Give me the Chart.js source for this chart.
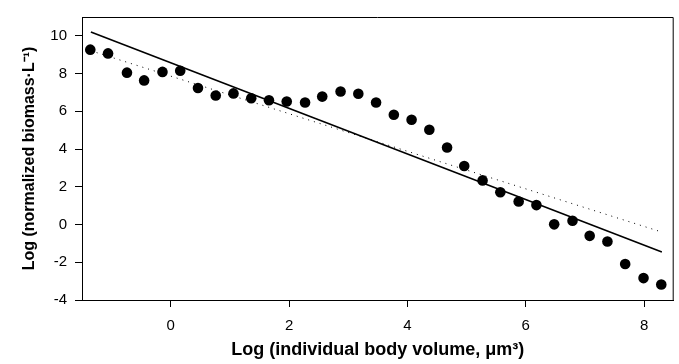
<!DOCTYPE html>
<html>
<head>
<meta charset="utf-8">
<script src="https://cdn.jsdelivr.net/npm/chart.js@4"></script>
<style>
  body { margin: 0; background: #fff; }
  #wrap { width: 679px; height: 364px; }
</style>
</head>
<body>
<div id="wrap"><canvas id="chart"></canvas></div>
<script>
// Puntos observados (log volumen, log biomasa normalizada)
const bodyVolume = [-1.36, -1.06, -0.74, -0.45, -0.14, 0.16, 0.46, 0.76, 1.06, 1.36,
    1.66, 1.96, 2.27, 2.56, 2.87, 3.17, 3.47, 3.77, 4.07, 4.37,
    4.67, 4.96, 5.27, 5.57, 5.88, 6.18, 6.48, 6.79, 7.08, 7.38,
    7.68, 7.99, 8.29];
const biomass = [9.27, 9.07, 8.05, 7.64, 8.09, 8.15, 7.24, 6.84, 6.95, 6.69,
    6.59, 6.52, 6.47, 6.78, 7.05, 6.93, 6.47, 5.82, 5.55, 5.02,
    4.08, 3.10, 2.34, 1.71, 1.22, 1.03, 0.01, 0.20, -0.60, -0.90,
    -2.09, -2.84, -3.18];

// Recta ajustada (continua) y recta de referencia (punteada)
const fitX = [-1.35, 8.3];
const fitY = [10.2, -1.45];
const refX = [-1.35, 8.26];
const refY = [9.21, -0.36];

// Marcas de los ejes
const xTicks = [0, 2, 4, 6, 8];
const yTicks = [-4, -2, 0, 2, 4, 6, 8, 10];

const toPoints = (xs, ys) => xs.map((x, i) => ({ x: x, y: ys[i] }));

// Dibuja el marco superior y derecho
const frame = {
    id: 'frame',
    afterDraw(chart) {
        const { ctx, chartArea: a } = chart;
        ctx.save();
        ctx.strokeStyle = '#000';
        ctx.lineWidth = 1;
        ctx.beginPath();
        ctx.moveTo(a.left, a.top + 0.5);
        ctx.lineTo(a.right - 0.5, a.top + 0.5);
        ctx.lineTo(a.right - 0.5, a.bottom);
        ctx.stroke();
        ctx.restore();
    }
};

const fam = 'Liberation Sans, Arial, sans-serif';
const tickFont = { family: fam, size: 15 };

new Chart(document.getElementById('chart'), {
    type: 'scatter',
    data: {
        datasets: [
            {
                data: toPoints(refX, refY),
                showLine: true,
                borderColor: '#000',
                borderWidth: 1,
                borderDash: [1, 5],
                pointRadius: 0
            },
            {
                data: toPoints(fitX, fitY),
                showLine: true,
                borderColor: '#000',
                borderWidth: 1.6,
                pointRadius: 0
            },
            {
                data: toPoints(bodyVolume, biomass),
                backgroundColor: '#000',
                borderColor: '#000',
                pointRadius: 5.3,
                borderWidth: 0
            }
        ]
    },
    options: {
        responsive: true,
        maintainAspectRatio: false,
        animation: false,
        layout: { padding: { top: 6, right: 3, left: 0, bottom: 0 } },
        plugins: {
            legend: { display: false },
            tooltip: { enabled: false }
        },
        scales: {
            x: {
                type: 'linear',
                min: -1.5,
                max: 8.5,
                afterBuildTicks: s => { s.ticks = xTicks.map(v => ({ value: v })); },
                afterFit: s => { s.height = 64; },
                ticks: { color: '#000', font: tickFont, padding: 10, maxRotation: 0 },
                grid: { drawOnChartArea: false, tickLength: 7, color: '#000' },
                border: { color: '#000', width: 1 },
                title: {
                    display: true,
                    text: 'Log (individual body volume, μm³)',
                    color: '#000',
                    font: { family: fam, size: 18, weight: 'bold' },
                    padding: { top: 0, bottom: 3 }
                }
            },
            y: {
                type: 'linear',
                min: -4,
                max: 11,
                afterBuildTicks: s => { s.ticks = yTicks.map(v => ({ value: v })); },
                afterFit: s => { s.width = 82; },
                ticks: { color: '#000', font: tickFont, padding: 8 },
                grid: { drawOnChartArea: false, tickLength: 7, color: '#000' },
                border: { color: '#000', width: 1 },
                title: {
                    display: true,
                    text: 'Log (normalized biomass·L⁻¹)',
                    color: '#000',
                    font: { family: fam, size: 16, weight: 'bold' },
                    padding: { top: 20, bottom: 0 }
                }
            }
        }
    },
    plugins: [frame]
});
</script>
</body>
</html>
